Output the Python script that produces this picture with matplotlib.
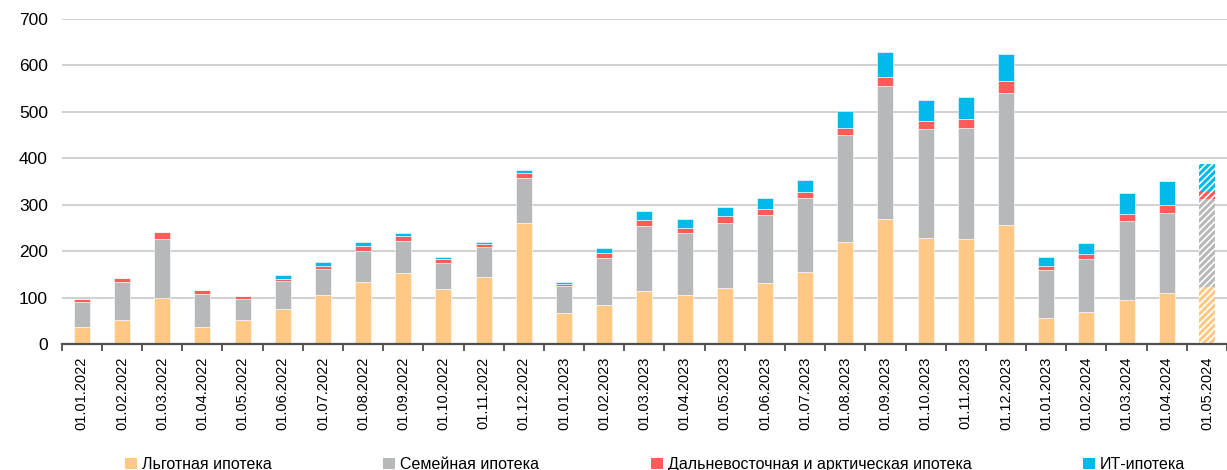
import matplotlib.pyplot as plt
import numpy as np
from matplotlib.patches import Patch

plt.rcParams['font.family'] = ['Liberation Sans', 'DejaVu Sans']
plt.rcParams['hatch.linewidth'] = 2.2

# Data (bn rub)
dates = ["01.01.2022", "01.02.2022", "01.03.2022", "01.04.2022", "01.05.2022",
         "01.06.2022", "01.07.2022", "01.08.2022", "01.09.2022", "01.10.2022",
         "01.11.2022", "01.12.2022", "01.01.2023", "01.02.2023", "01.03.2023",
         "01.04.2023", "01.05.2023", "01.06.2023", "01.07.2023", "01.08.2023",
         "01.09.2023", "01.10.2023", "01.11.2023", "01.12.2023", "01.01.2023",
         "01.02.2024", "01.03.2024", "01.04.2024", "01.05.2024"]
lgotnaya = [36, 51, 99, 36, 51, 76, 105, 134, 152, 118, 144, 260, 66, 85, 114,
            106, 121, 132, 155, 219, 270, 228, 226, 256, 55, 70, 95, 109, 123]
semeynaya = [54, 82, 126, 72, 46, 59, 57, 66, 69, 56, 64, 98, 58, 100, 141,
             133, 140, 146, 159, 230, 286, 235, 239, 285, 104, 113, 170, 174, 190]
dalnevost = [6, 10, 16, 9, 6, 4, 7, 11, 11, 9, 8, 11, 5, 10, 12,
             11, 15, 13, 14, 15, 18, 17, 20, 25, 9, 11, 15, 17, 16]
it_ipoteka = [0, 0, 0, 0, 1, 10, 8, 8, 7, 4, 3, 6, 5, 11, 19,
              20, 19, 23, 26, 38, 54, 45, 47, 59, 19, 24, 46, 51, 58]

series = [
    ("Льготная ипотека", lgotnaya, "#FFC985"),
    ("Семейная ипотека", semeynaya, "#B7B8B9"),
    ("Дальневосточная и арктическая ипотека", dalnevost, "#FF5B5B"),
    ("ИТ-ипотека", it_ipoteka, "#00B9EB"),
]

fig = plt.figure(figsize=(12.27, 4.70), dpi=100)
ax = fig.add_axes([0.0503, 0.268, 0.9497, 0.692])

x = np.arange(len(dates))
n_full = len(dates) - 1  # last month is an estimate, drawn hatched
bottom = np.zeros(len(dates))
for name, vals, color in series:
    vals = np.array(vals, dtype=float)
    ax.bar(x[:n_full], vals[:n_full], width=0.4, bottom=bottom[:n_full],
           color=color, edgecolor="white", linewidth=0.4, zorder=3)
    ax.bar(x[n_full:], vals[n_full:], width=0.4, bottom=bottom[n_full:],
           facecolor="white", edgecolor=color, hatch="/////", linewidth=0, zorder=3)
    bottom += vals

ax.set_xlim(-0.5, len(dates) - 0.5)
ax.set_ylim(0, 700)
ax.set_yticks(range(0, 701, 100))
ax.tick_params(axis="y", length=0, labelsize=12.5, pad=10)
ax.yaxis.grid(True, color="#C8C8C8", linewidth=1.2, zorder=0)

ax.set_xticks(x)
ax.set_xticklabels(dates, rotation=90, fontsize=10.5)
ax.set_xticks(np.arange(-0.5, len(dates), 1.0), minor=True)
ax.tick_params(axis="x", which="major", length=0, pad=9)
ax.tick_params(axis="x", which="minor", length=5, width=1.2, color="#404040")

for s in ["top", "right", "left"]:
    ax.spines[s].set_visible(False)
ax.spines["bottom"].set_color("#505050")
ax.spines["bottom"].set_linewidth(1.6)
ax.spines["bottom"].set_zorder(4)

handles = [Patch(facecolor=c, edgecolor="none") for _, _, c in series]
labels = [n for n, _, _ in series]
fig.legend(handles, labels, loc="lower center", bbox_to_anchor=(0.534, -0.035),
           ncol=4, frameon=False, fontsize=11.5, handlelength=0.75, handleheight=0.75,
           handletextpad=0.3, columnspacing=7.0)

plt.savefig("out.png", dpi=100)
